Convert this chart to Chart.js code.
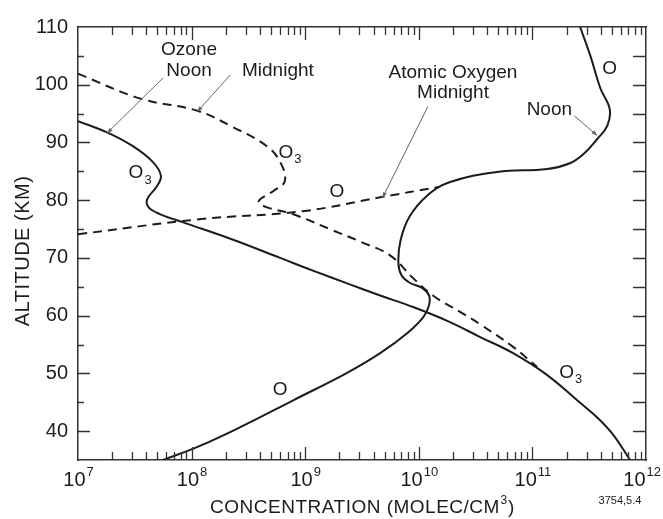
<!DOCTYPE html>
<html>
<head>
<meta charset="utf-8">
<script src="https://cdn.jsdelivr.net/npm/chart.js@4.4.1/dist/chart.umd.min.js"></script>
<style>
  html, body { margin: 0; padding: 0; background: #fff; }
  #wrap { width: 663px; height: 519px; }
</style>
</head>
<body>
<div id="wrap"><canvas id="chart"></canvas></div>
<script>
// tick labels
var xTickPowers = [7, 8, 9, 10, 11, 12];
var xMinorSteps = [2, 3, 4, 5, 6, 7, 8, 9];
var yTicks = [40, 50, 60, 70, 80, 90, 100, 110];
var yMinorTicks = [40, 45, 50, 55, 60, 65, 70, 75, 80, 85, 90, 95, 100, 105];

// ozone, noon (solid)
var ozoneNoonConc = [1.0e7, 1.78e7, 3.02e7, 4.57e7, 5.37e7, 4.90e7, 4.07e7, 4.17e7, 5.25e7, 8.32e7, 2.29e8, 6.03e8, 1.17e9, 2.34e9, 4.57e9, 8.91e9, 1.78e10, 3.47e10, 6.76e10, 1.35e11, 2.63e11, 3.80e11, 5.13e11, 7.24e11];
var ozoneNoonAlt = [93.7, 91.8, 89.4, 86.6, 84.2, 82.3, 80.2, 78.8, 77.6, 76.2, 73.2, 70.0, 67.8, 65.6, 63.5, 61.5, 59.1, 56.3, 53.5, 49.7, 44.9, 42.2, 39.4, 35.0];

// ozone, midnight (dashed)
var ozoneNightConc = [1.0e7, 3.55e7, 1.12e8, 2.29e8, 4.57e8, 6.03e8, 6.61e8, 5.25e8, 3.89e8, 4.57e8, 7.76e8, 1.74e9, 3.16e9, 5.62e9, 8.91e9, 1.35e10, 2.29e10, 3.47e10, 6.76e10, 1.10e11];
var ozoneNightAlt = [101.9, 97.6, 95.5, 92.7, 89.4, 86.6, 83.3, 81.6, 79.8, 78.8, 77.6, 74.8, 72.7, 70.4, 66.5, 63.4, 60.7, 58.5, 54.6, 51.1];

// atomic oxygen, noon (solid)
var oxygenNoonConc = [5.62e7, 1.17e8, 2.82e8, 7.76e8, 2.34e9, 4.57e9, 7.94e9, 1.10e10, 1.23e10, 1.23e10, 1.07e10, 8.32e9, 7.08e9, 6.61e9, 6.92e9, 8.32e9, 1.17e10, 1.86e10, 4.90e10, 1.35e11, 2.14e11, 2.82e11, 3.72e11, 4.57e11, 4.79e11, 3.98e11, 3.24e11, 2.63e11];
var oxygenNoonAlt = [35.0, 37.4, 40.9, 45.3, 50.1, 53.5, 57.0, 59.8, 61.8, 63.5, 64.8, 65.7, 66.9, 69.1, 73.1, 77.2, 80.7, 83.1, 84.9, 85.4, 86.4, 88.0, 90.6, 92.9, 95.8, 99.3, 105.0, 110.0];

// atomic oxygen, midnight (dashed)
var oxygenNightConc = [1.0e7, 1.17e8, 9.55e8, 4.57e9, 1.51e10];
var oxygenNightAlt = [74.1, 76.7, 78.1, 80.5, 82.3];

var INK = '#1c1c1c';
var FONT = '"Liberation Sans", Arial, Helvetica, sans-serif';

function makeSet(xs, ys, dashed) {
    return {
        data: xs.map(function (v, i) { return { x: v, y: ys[i] }; }),
        showLine: true,
        borderColor: INK,
        borderWidth: 2,
        borderDash: dashed ? [9, 6] : [],
        pointRadius: 0,
        tension: 0.4,
        fill: false
    };
}

var decor = {
    id: 'decor',
    afterDraw: function (chart) {
        var ctx = chart.ctx;
        var xs = chart.scales.x;
        var ys = chart.scales.y;
        var a = chart.chartArea;

        ctx.save();
        ctx.strokeStyle = '#333';
        ctx.lineWidth = 1.3;
        ctx.beginPath();
        xTickPowers.forEach(function (p) {
            if (p >= 12) return;
            var steps = [1].concat(xMinorSteps);
            steps.forEach(function (k) {
                var v = k * Math.pow(10, p);
                if (v <= 1e7) return;
                var px = Math.round(xs.getPixelForValue(v)) + 0.5;
                var len = k === 1 ? 13 : 8;
                ctx.moveTo(px, a.bottom);
                ctx.lineTo(px, a.bottom - len);
                ctx.moveTo(px, a.top);
                ctx.lineTo(px, a.top + len);
            });
        });
        yMinorTicks.forEach(function (v) {
            var py = Math.round(ys.getPixelForValue(v)) + 0.5;
            var len = v % 10 === 0 ? 12 : 6;
            ctx.moveTo(a.left, py);
            ctx.lineTo(a.left + len, py);
            ctx.moveTo(a.right, py);
            ctx.lineTo(a.right - 13, py);
        });
        ctx.stroke();

        ctx.fillStyle = INK;
        // y tick labels
        ctx.font = '20px ' + FONT;
        ctx.textAlign = 'right';
        ctx.textBaseline = 'middle';
        yTicks.forEach(function (v) {
            ctx.fillText(String(v), a.left - 10, ys.getPixelForValue(v));
        });

        // x tick labels, 10 with superscript power
        ctx.textBaseline = 'alphabetic';
        ctx.textAlign = 'left';
        xTickPowers.forEach(function (p) {
            var px = xs.getPixelForValue(Math.pow(10, p));
            ctx.font = '20px ' + FONT;
            var wb = ctx.measureText('10').width;
            ctx.font = '13px ' + FONT;
            var we = ctx.measureText(String(p)).width;
            var x0 = Math.min(px - (wb + we) / 2, chart.width - 3 - wb - we);
            ctx.font = '20px ' + FONT;
            ctx.fillText('10', x0, a.bottom + 26);
            ctx.font = '13px ' + FONT;
            ctx.fillText(String(p), x0 + wb + 1, a.bottom + 16);
        });

        // x title
        ctx.letterSpacing = '0.5px';
        ctx.font = '19px ' + FONT;
        var t1 = 'CONCENTRATION (MOLEC/CM';
        var w1 = ctx.measureText(t1).width;
        var w3 = ctx.measureText(')').width;
        ctx.font = '12px ' + FONT;
        var w2 = ctx.measureText('3').width;
        var tx = (a.left + a.right) / 2 - (w1 + w2 + w3) / 2;
        ctx.font = '19px ' + FONT;
        ctx.fillText(t1, tx, 513);
        ctx.fillText(')', tx + w1 + w2 + 1, 513);
        ctx.font = '12px ' + FONT;
        ctx.fillText('3', tx + w1 + 0.5, 504);
        ctx.letterSpacing = '0px';

        // figure number
        ctx.font = '11px ' + FONT;
        ctx.textAlign = 'center';
        ctx.fillText('3754,5.4', 620, 504);

        // y title
        ctx.save();
        ctx.translate(23, 251);
        ctx.rotate(-Math.PI / 2);
        ctx.letterSpacing = '0.5px';
        ctx.font = '20px ' + FONT;
        ctx.textAlign = 'center';
        ctx.textBaseline = 'middle';
        ctx.fillText('ALTITUDE (KM)', 0, 0);
        ctx.restore();

        // curve labels
        var labels = [
            ['Ozone', 9.5e7, 106.0, ''],
            ['Noon', 9.5e7, 102.4, ''],
            ['Midnight', 5.75e8, 102.4, ''],
            ['O', 3.24e7, 84.7, '3'],
            ['O', 6.76e8, 88.2, '3'],
            ['O', 1.9e9, 81.4, ''],
            ['Atomic Oxygen', 2.0e10, 102.0, ''],
            ['Midnight', 2.0e10, 98.6, ''],
            ['O', 4.79e11, 102.7, ''],
            ['Noon', 1.41e11, 95.6, ''],
            ['O', 6.03e8, 47.1, ''],
            ['O', 2.0e11, 50.1, '3']
        ];
        ctx.textAlign = 'center';
        ctx.textBaseline = 'middle';
        labels.forEach(function (l) {
            var px = xs.getPixelForValue(l[1]);
            var py = ys.getPixelForValue(l[2]);
            ctx.font = '19px ' + FONT;
            ctx.fillText(l[0], px, py);
            if (l[3]) {
                var w = ctx.measureText(l[0]).width;
                ctx.font = '13px ' + FONT;
                ctx.textAlign = 'left';
                ctx.fillText(l[3], px + w / 2 + 1, py + 7);
                ctx.textAlign = 'center';
            }
        });

        // leader lines with small arrowheads
        var leaders = [
            [5.62e7, 101.2, 1.80e7, 91.6],
            [2.19e8, 101.7, 1.12e8, 95.3],
            [1.20e10, 96.2, 4.79e9, 80.4],
            [2.34e11, 94.6, 3.72e11, 91.2]
        ];
        ctx.strokeStyle = '#666';
        ctx.fillStyle = '#666';
        ctx.lineWidth = 1;
        leaders.forEach(function (d) {
            var x1 = xs.getPixelForValue(d[0]), y1 = ys.getPixelForValue(d[1]);
            var x2 = xs.getPixelForValue(d[2]), y2 = ys.getPixelForValue(d[3]);
            ctx.beginPath();
            ctx.moveTo(x1, y1);
            ctx.lineTo(x2, y2);
            ctx.stroke();
            var ang = Math.atan2(y2 - y1, x2 - x1);
            ctx.beginPath();
            ctx.moveTo(x2, y2);
            ctx.lineTo(x2 - 6 * Math.cos(ang - 0.35), y2 - 6 * Math.sin(ang - 0.35));
            ctx.lineTo(x2 - 6 * Math.cos(ang + 0.35), y2 - 6 * Math.sin(ang + 0.35));
            ctx.closePath();
            ctx.fill();
        });
        ctx.restore();
    }
};

function hiddenAxis(type, position, min, max) {
    return {
        type: type,
        position: position,
        min: min,
        max: max,
        ticks: { display: false },
        grid: { display: false, drawTicks: false, tickLength: 0 },
        border: { display: true, color: '#333', width: 1.5 }
    };
}

var chart = new Chart(document.getElementById('chart'), {
    type: 'scatter',
    data: {
        datasets: [
            makeSet(ozoneNoonConc, ozoneNoonAlt, false),
            makeSet(ozoneNightConc, ozoneNightAlt, true),
            makeSet(oxygenNoonConc, oxygenNoonAlt, false),
            makeSet(oxygenNightConc, oxygenNightAlt, true)
        ]
    },
    options: {
        responsive: true,
        maintainAspectRatio: false,
        animation: false,
        layout: { padding: { left: 78, right: 17, top: 27, bottom: 59 } },
        plugins: {
            legend: { display: false },
            tooltip: { enabled: false }
        },
        scales: {
            x: hiddenAxis('logarithmic', 'bottom', 1e7, 1e12),
            xTop: hiddenAxis('logarithmic', 'top', 1e7, 1e12),
            y: hiddenAxis('linear', 'left', 35, 110),
            yRight: hiddenAxis('linear', 'right', 35, 110)
        }
    },
    plugins: [decor]
});
</script>
</body>
</html>
